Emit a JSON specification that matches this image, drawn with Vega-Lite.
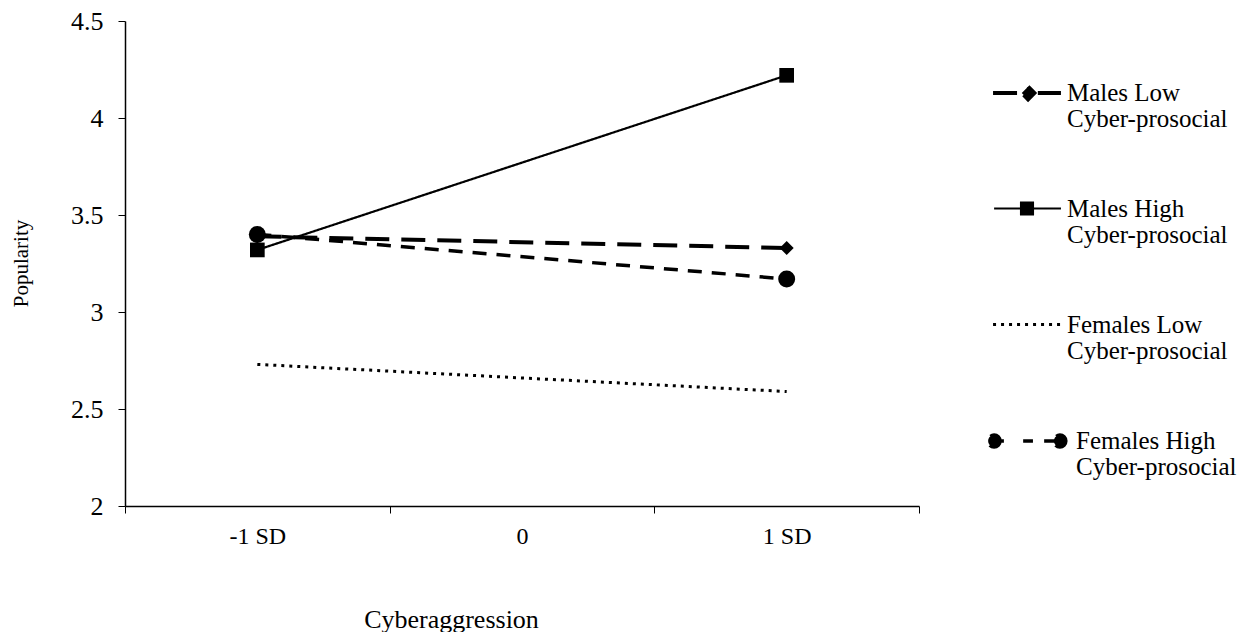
{
  "$schema": "https://vega.github.io/schema/vega-lite/v6.json",
  "width": 794,
  "height": 485,
  "autosize": "none",
  "padding": {"left": 125, "top": 21, "right": 318, "bottom": 126},
  "background": "white",
  "config": {
    "font": "Liberation Serif",
    "view": {"stroke": null},
    "axis": {"grid": false, "domainColor": "black", "tickColor": "black", "labelColor": "black", "titleColor": "black", "labelFontSize": 24, "titleFontSize": 26, "labelFontWeight": "normal", "titleFontWeight": "normal", "domainWidth": 1.5, "tickWidth": 1, "tickSize": 7},
    "legend": {"labelFontSize": 25, "labelColor": "black"}
  },
  "data": {
    "values": [
      {"series": "Males Low Cyber-prosocial", "x": "-1 SD", "y": 3.39},
      {"series": "Males Low Cyber-prosocial", "x": "1 SD", "y": 3.33},
      {"series": "Males High Cyber-prosocial", "x": "-1 SD", "y": 3.32},
      {"series": "Males High Cyber-prosocial", "x": "1 SD", "y": 4.22},
      {"series": "Females Low Cyber-prosocial", "x": "-1 SD", "y": 2.73},
      {"series": "Females Low Cyber-prosocial", "x": "1 SD", "y": 2.59},
      {"series": "Females High Cyber-prosocial", "x": "-1 SD", "y": 3.40},
      {"series": "Females High Cyber-prosocial", "x": "1 SD", "y": 3.17}
    ]
  },
  "encoding": {
    "x": {
      "field": "x", "type": "nominal",
      "scale": {"type": "band", "domain": ["-1 SD", "0", "1 SD"], "paddingInner": 0, "paddingOuter": 0},
      "axis": {"title": "Cyberaggression", "labelAngle": 0, "tickBand": "extent", "labelPadding": 11, "titleX": 326, "titleY": 121, "titleBaseline": "alphabetic", "titleAlign": "center", "titleAnchor": null}
    },
    "y": {
      "field": "y", "type": "quantitative",
      "scale": {"domain": [2, 4.5], "nice": false, "zero": false},
      "axis": {"title": "Popularity", "values": [2, 2.5, 3, 3.5, 4, 4.5], "labelExpr": "'' + datum.value", "labelFontSize": 26, "labelPadding": 15, "titleFontSize": 21, "titleAngle": -90, "titleX": -98, "titleY": 242, "titleBaseline": "alphabetic", "titleAlign": "center", "titleAnchor": null}
    },
    "color": {
      "field": "series", "type": "nominal",
      "scale": {"domain": ["Males Low Cyber-prosocial", "Males High Cyber-prosocial", "Females Low Cyber-prosocial", "Females High Cyber-prosocial"], "range": ["black", "black", "black", "black"]},
      "legend": {
        "title": null,
        "orient": "none",
        "legendX": 865,
        "legendY": 35,
        "padding": 0,
        "symbolSize": 4900,
        "rowPadding": 40,
        "labelOffset": 3,
        "labelLimit": 400,
        "labelBaseline": "middle",
        "labelExpr": "[replace(datum.label, ' Cyber-prosocial', ''), 'Cyber-prosocial']",
        "encode": {
          "symbols": {
            "update": {
              "shape": {"signal": "datum.value === 'Males Low Cyber-prosocial' ? 'M-0.97,0H-0.12M0.31,0H0.97M0.03,-0.18L0.21,0L0.03,0.18L-0.15,0Z' : datum.value === 'Males High Cyber-prosocial' ? 'M-0.94,0H0.97M-0.17,-0.17H0.17V0.17H-0.17Z' : datum.value === 'Females Low Cyber-prosocial' ? 'M-0.97,0H0.97' : 'M-0.94,0H-0.66M-0.11,0H0.17M0.49,0H0.94M-0.77,0A0.17,0.17,0,1,1,-1.11,0A0.17,0.17,0,1,1,-0.77,0ZM1.11,0A0.17,0.17,0,1,1,0.77,0A0.17,0.17,0,1,1,1.11,0Z'"},
              "fill": {"value": "black"},
              "stroke": {"value": "black"},
              "opacity": {"value": 1},
              "strokeWidth": {"signal": "datum.value === 'Males High Cyber-prosocial' ? 2.2 : datum.value === 'Females Low Cyber-prosocial' ? 3 : 4"},
              "strokeDash": {"signal": "datum.value === 'Females Low Cyber-prosocial' ? [3, 5] : [1, 0]"}
            }
          },
          "labels": {
            "update": {
              "lineHeight": {"value": 26},
              "dx": {"signal": "datum.value === 'Females High Cyber-prosocial' ? 9 : 0"}
            }
          }
        }
      }
    }
  },
  "layer": [
    {
      "mark": {"type": "line"},
      "encoding": {
        "strokeDash": {
          "field": "series", "type": "nominal", "legend": null,
          "scale": {"type": "ordinal", "domain": ["Males Low Cyber-prosocial", "Males High Cyber-prosocial", "Females Low Cyber-prosocial", "Females High Cyber-prosocial"], "range": [[24, 12], [1, 0], [3, 5], [14, 10]]}
        },
        "strokeWidth": {
          "field": "series", "type": "nominal", "legend": null,
          "scale": {"type": "ordinal", "domain": ["Males Low Cyber-prosocial", "Males High Cyber-prosocial", "Females Low Cyber-prosocial", "Females High Cyber-prosocial"], "range": [4, 2.2, 3, 3.5]}
        }
      }
    },
    {
      "transform": [{"filter": "datum.series !== 'Females Low Cyber-prosocial'"}],
      "mark": {"type": "point", "filled": true, "opacity": 1},
      "encoding": {
        "shape": {
          "field": "series", "type": "nominal", "legend": null,
          "scale": {"domain": ["Males Low Cyber-prosocial", "Males High Cyber-prosocial", "Females High Cyber-prosocial"], "range": ["diamond", "square", "circle"]}
        },
        "size": {
          "field": "series", "type": "nominal", "legend": null,
          "scale": {"type": "ordinal", "domain": ["Males Low Cyber-prosocial", "Males High Cyber-prosocial", "Females High Cyber-prosocial"], "range": [196, 216, 289]}
        }
      }
    }
  ]
}
